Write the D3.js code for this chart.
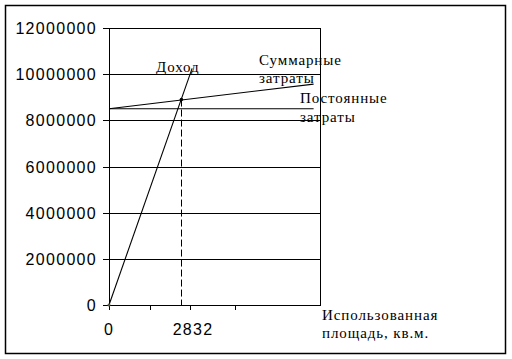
<!DOCTYPE html>
<html>
<head>
<meta charset="utf-8">
<script src="https://cdn.jsdelivr.net/npm/d3@7"></script>
<style>
	body { margin: 0; background: #fff; }
	.num { font-family: "Liberation Sans", Arial, sans-serif; font-size: 16px; letter-spacing: 1.3px; }
	.lbl { font-family: "Liberation Serif", "Times New Roman", serif; font-size: 15px; letter-spacing: 0.9px; }
</style>
</head>
<body>
<svg id="chart"></svg>
<script>

// break-even chart: revenue vs fixed / total costs
var yTicks = [0, 2000000, 4000000, 6000000, 8000000, 10000000, 12000000];
var xTicks = [0, 1600, 3170, 4930];
var xTickLabels = ["0", "", "2832", ""];

var revenue = [[0, 0], [3250, 10250000]];
var totalCosts = [[0, 8500000], [8000, 9570000]];
var fixedCosts = [[0, 8500000], [8000, 8500000]];
var breakEven = [2832, 8900000];

var width = 512,
	height = 359;

var svg = d3.select("#chart")
	.attr("width", width)
	.attr("height", height);

// outer frame
svg.append("rect")
	.attr("x", 5.5).attr("y", 5.5)
	.attr("width", 500).attr("height", 348)
	.attr("fill", "none")
	.attr("stroke", "#000")
	.attr("stroke-width", 1.5);

var x = d3.scaleLinear().domain([0, 8250]).range([109, 320]);
var y = d3.scaleLinear().domain([0, 12000000]).range([305, 28]);

// horizontal grid + y ticks
svg.append("g")
	.attr("shape-rendering", "crispEdges")
	.selectAll("line")
	.data(yTicks)
	.join("line")
	.attr("x1", 103)
	.attr("x2", 320)
	.attr("y1", d => Math.round(y(d)) + 0.5)
	.attr("y2", d => Math.round(y(d)) + 0.5)
	.attr("stroke", "#000");

svg.append("g")
	.selectAll("text")
	.data(yTicks)
	.join("text")
	.attr("class", "num")
	.attr("x", 97)
	.attr("y", d => y(d) + 6)
	.attr("text-anchor", "end")
	.text(d => d);

// y axis and right border
svg.append("line")
	.attr("shape-rendering", "crispEdges")
	.attr("x1", 109.5).attr("x2", 109.5)
	.attr("y1", y(12000000)).attr("y2", y(0))
	.attr("stroke", "#000");
svg.append("line")
	.attr("shape-rendering", "crispEdges")
	.attr("x1", 320.5).attr("x2", 320.5)
	.attr("y1", y(12000000)).attr("y2", y(0) + 1)
	.attr("stroke", "#000");

// x axis ticks
svg.append("g")
	.attr("shape-rendering", "crispEdges")
	.selectAll("line")
	.data(xTicks)
	.join("line")
	.attr("x1", d => Math.round(x(d)) + 0.5)
	.attr("x2", d => Math.round(x(d)) + 0.5)
	.attr("y1", y(0))
	.attr("y2", y(0) + 5)
	.attr("stroke", "#000");

svg.append("g")
	.selectAll("text")
	.data(xTicks)
	.join("text")
	.attr("class", "num")
	.attr("x", d => x(d) + (d ? 3 : 0))
	.attr("y", 335)
	.attr("text-anchor", "middle")
	.text((d, i) => xTickLabels[i]);

// data lines
var line = d3.line().x(d => x(d[0])).y(d => y(d[1]));

[revenue, totalCosts, fixedCosts].forEach(function(s) {
	svg.append("path")
		.attr("d", line(s))
		.attr("fill", "none")
		.attr("stroke", "#000")
		.attr("stroke-width", 1.1);
});

// break-even marker
svg.append("line")
	.attr("x1", Math.round(x(breakEven[0])) + 0.5)
	.attr("x2", Math.round(x(breakEven[0])) + 0.5)
	.attr("y1", y(breakEven[1]))
	.attr("y2", y(0))
	.attr("stroke", "#000")
	.attr("stroke-dasharray", "7,3");
svg.append("circle")
	.attr("cx", x(breakEven[0]))
	.attr("cy", y(breakEven[1]))
	.attr("r", 1.8)
	.attr("fill", "#000");
svg.append("circle")
	.attr("cx", x(0))
	.attr("cy", y(0))
	.attr("r", 1.5)
	.attr("fill", "#554");

// annotations
var notes = [
	["Доход", 156, 72],
	["Суммарные", 259, 65],
	["затраты", 259, 83],
	["Постоянные", 300, 103],
	["затраты", 300, 122],
	["Использованная", 322, 320],
	["площадь, кв.м.", 322, 338]
];

svg.append("g")
	.selectAll("text")
	.data(notes)
	.join("text")
	.attr("class", "lbl")
	.attr("x", d => d[1])
	.attr("y", d => d[2])
	.text(d => d[0]);

</script>
</body>
</html>
